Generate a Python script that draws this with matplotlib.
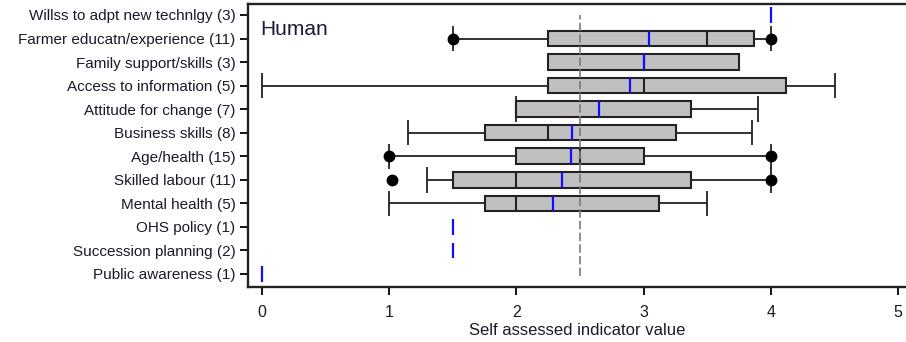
import matplotlib
matplotlib.use("Agg")
import matplotlib.pyplot as plt
import numpy as np

plt.rcParams['font.family'] = ['Liberation Sans', 'DejaVu Sans']

# Categories, top to bottom
categories = [
    "Willss to adpt new technlgy (3)",
    "Farmer educatn/experience (11)",
    "Family support/skills (3)",
    "Access to information (5)",
    "Attitude for change (7)",
    "Business skills (8)",
    "Age/health (15)",
    "Skilled labour (11)",
    "Mental health (5)",
    "OHS policy (1)",
    "Succession planning (2)",
    "Public awareness (1)",
]

# Box statistics (None = no box drawn)
q1      = [None, 2.25, 2.25, 2.25, 2.0,  1.75, 2.0,  1.5,  1.75, None, None, None]
median  = [None, 3.5,  3.0,  3.0,  2.0,  2.25, 2.5,  2.0,  2.0,  None, None, None]
q3      = [None, 3.87, 3.75, 4.12, 3.37, 3.25, 3.0,  3.37, 3.12, None, None, None]
whislo  = [None, 1.5,  2.25, 0.0,  2.0,  1.15, 1.0,  1.3,  1.0,  None, None, None]
whishi  = [None, 4.0,  3.75, 4.5,  3.9,  3.85, 4.0,  4.0,  3.5,  None, None, None]
means   = [4.0,  3.04, 3.0,  2.89, 2.65, 2.44, 2.43, 2.36, 2.29, 1.5,  1.5,  0.0]
caps    = [[], [1.5, 4.0], [], [0.0, 4.5], [2.0, 3.9], [1.15, 3.85],
           [1.0, 4.0], [1.3, 4.0], [1.0, 3.5], [], [], []]
dots    = [[], [1.5, 4.0], [], [], [], [], [1.0, 4.0], [1.02, 4.0], [], [], [], []]
reference_value = 2.5

fig = plt.figure(figsize=(9.06, 3.42), dpi=100)
ax = fig.add_axes([248/906, 1-286.7/342, (906-248)/906, (286.7-4)/342])

n = len(categories)
ys = np.arange(n)[::-1]  # top category highest
box_h = 0.66
cap_h = 1.08
edge = '#222222'

for i, y in enumerate(ys):
    if q1[i] is not None:
        ax.hlines(y, whislo[i], q1[i], color=edge, lw=1.3, zorder=2)
        ax.hlines(y, q3[i], whishi[i], color=edge, lw=1.3, zorder=2)
        ax.barh(y, q3[i]-q1[i], left=q1[i], height=box_h, facecolor='#c0c0c0',
                edgecolor=edge, linewidth=1.5, zorder=3)
        ax.vlines(median[i], y-box_h/2, y+box_h/2, color=edge, lw=1.5, zorder=4)
    for c in caps[i]:
        ax.vlines(c, y-cap_h/2, y+cap_h/2, color=edge, lw=1.3, zorder=2)
    for d in dots[i]:
        ax.plot(d, y, 'o', color='black', ms=7.5, zorder=5)
    ax.vlines(means[i], y-box_h/2, y+box_h/2, color='#1010ff', lw=1.6, zorder=6)

ax.vlines(reference_value, -0.1, ys[0], color='#7a7a7a', lw=1.2,
          linestyles=(0, (5, 2)), zorder=7)

ax.set_xlim(-0.110, 5.061)
ax.set_ylim(-0.54, 11.467)
ax.set_yticks(ys)
ax.set_yticklabels(categories, fontsize=11, color='#1a1a2a')
ax.set_xticks([0, 1, 2, 3, 4, 5])
ax.set_xticklabels(['0', '1', '2', '3', '4', '5'], fontsize=11.5, color='#1a1a2a')
ax.tick_params(axis='y', length=6, width=1.3, pad=3)
ax.tick_params(axis='x', length=6, width=1.3, pad=7)
ax.set_xlabel("Self assessed indicator value", fontsize=12, color='#1a1a2a', labelpad=2)

for s in ['left', 'top', 'bottom']:
    ax.spines[s].set_linewidth(1.7)
    ax.spines[s].set_color('#222222')
ax.spines['right'].set_visible(False)

ax.text(0.018, 0.89, "Human", transform=ax.transAxes, fontsize=15,
        color='#1a1a3a', va='baseline', ha='left')

fig.savefig("out.png", dpi=100)
